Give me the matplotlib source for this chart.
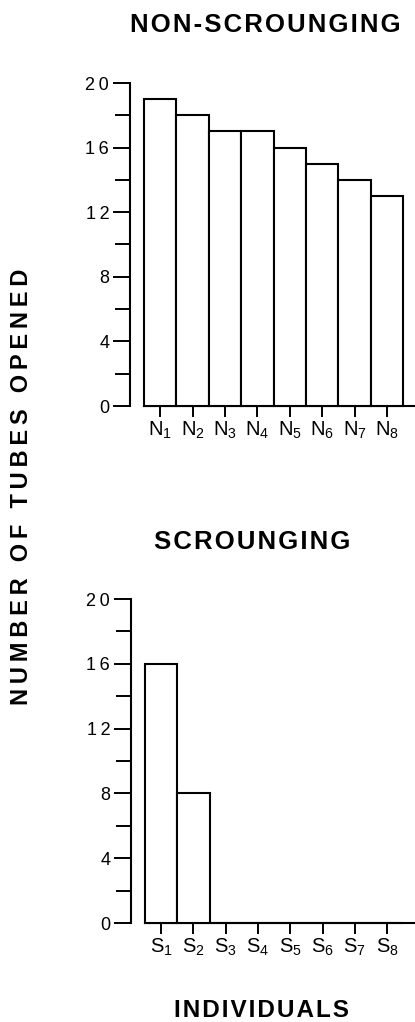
import matplotlib
matplotlib.use("Agg")
import matplotlib.pyplot as plt
from matplotlib.ticker import FixedLocator

plt.rcParams['font.family'] = ['Liberation Sans', 'DejaVu Sans']
plt.rcParams['mathtext.fontset'] = 'custom'
plt.rcParams['mathtext.rm'] = 'Liberation Sans'
plt.rcParams['mathtext.it'] = 'Liberation Sans'

# ---- data ----
non_labels = [r'$\mathregular{N_{%d}}$' % i for i in range(1, 9)]
non_values = [19, 18, 17, 17, 16, 15, 14, 13]
scr_labels = [r'$\mathregular{S_{%d}}$' % i for i in range(1, 9)]
scr_values = [16, 8, 0, 0, 0, 0, 0, 0]
y_major = [0, 4, 8, 12, 16, 20]
y_minor = [2, 6, 10, 14, 18]

HAIR = '\u200a'
THIN = '\u2009'


def spaced(s, sp):
    return sp.join(list(s))


W, H = 415, 1022
fig = plt.figure(figsize=(W / 100, H / 100), dpi=100)


def px_axes(left, right, top, bottom):
    return fig.add_axes([left / W, (H - bottom) / H, (right - left) / W, (bottom - top) / H])


ax1 = px_axes(130, 415, 83, 406)
ax2 = px_axes(131, 415, 599, 923)

xmin = -0.5 - 14 / 32.4
xmax = xmin + 285 / 32.4

for ax, labels, values in [(ax1, non_labels, non_values), (ax2, scr_labels, scr_values)]:
    x = list(range(len(values)))
    ax.bar(x, values, width=1.0, color='white', edgecolor='black', linewidth=1.5,
           clip_on=False, zorder=3)
    ax.set_xlim(xmin, xmax)
    ax.set_ylim(0, 20)
    for s in ['top', 'right']:
        ax.spines[s].set_visible(False)
    for s in ['left', 'bottom']:
        ax.spines[s].set_linewidth(1.5)
    ax.spines['bottom'].set_bounds(-0.5, xmax)
    ax.set_xticks(x)
    ax.set_xticklabels(labels, fontsize=14.5)
    ax.yaxis.set_major_locator(FixedLocator(y_major))
    ax.yaxis.set_minor_locator(FixedLocator(y_minor))
    ax.set_yticklabels([spaced(str(v), THIN) for v in y_major], fontsize=13)
    ax.tick_params(axis='y', which='major', direction='out', length=12, width=1.4, pad=3)
    ax.tick_params(axis='y', which='minor', direction='out', length=11, width=1.4)
    ax.tick_params(axis='x', direction='out', length=8, width=1.4, pad=2)

fig.text(265 / W, 1 - 25 / H, spaced('NON-SCROUNGING', HAIR), ha='center', va='center',
         fontsize=18.5, fontweight='bold')
fig.text(252 / W, 1 - 542 / H, spaced('SCROUNGING', HAIR), ha='center', va='center',
         fontsize=18.5, fontweight='bold')
fig.text(262 / W, 1 - 1010 / H, spaced('INDIVIDUALS', HAIR), ha='center', va='center',
         fontsize=17.5, fontweight='bold')
fig.text(22 / W, 1 - 487 / H, spaced('NUMBER OF TUBES OPENED', THIN), ha='center', va='center',
         rotation=90, fontsize=17, fontweight='bold')

fig.savefig('out.png', dpi=100, facecolor='white')
